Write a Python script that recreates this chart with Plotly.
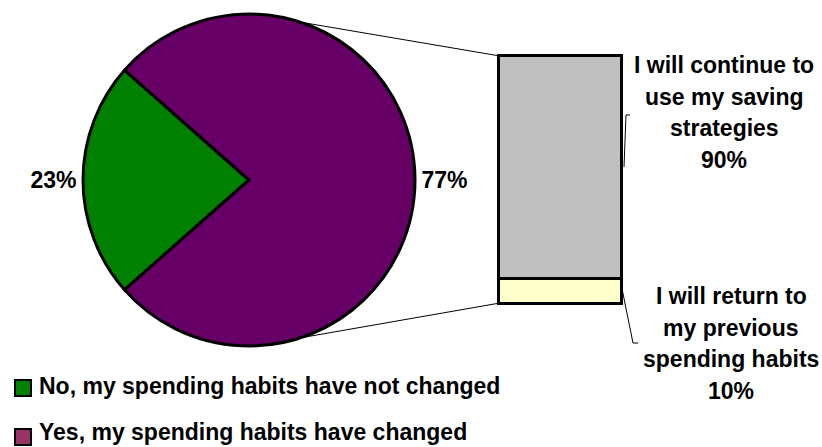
import math
import plotly.graph_objects as go

# ---- data -------------------------------------------------------------
habit_labels = ["No, my spending habits have not changed",
                "Yes, my spending habits have changed"]
habit_share = [23, 77]
habit_colors = ["#008000", "#660066"]
legend_swatch_colors = ["#008000", "#993366"]

plan_label_lines = [["I will continue to", "use my saving", "strategies"],
                    ["I will return to", "my previous", "spending habits"]]
plan_share = [90, 10]
plan_colors = ["#C0C0C0", "#FFFFCC"]

# ---- canvas helpers (pixel -> paper) ----------------------------------
W, H = 822, 447
def px(x):
    return x / W
def py(y):
    return 1 - y / H

FONT = dict(family="Liberation Sans, Arial, sans-serif", size=23, color="black")

# pie geometry
cx, cy, r = 249, 180, 166
# bar geometry (outline centre lines)
bar_left, bar_right = 498.5, 621.5
bar_top, bar_bottom = 55.5, 303.5
pad = 10
total = sum(plan_share)
unit = (bar_bottom - bar_top) / total
dom_l, dom_r = bar_left - pad, bar_right + pad
bar_width = (bar_right - bar_left) / (dom_r - dom_l)

fig = go.Figure()

# pie: first slice centred on 9 o'clock
fig.add_trace(go.Pie(
    labels=habit_labels,
    values=habit_share,
    sort=False,
    direction="clockwise",
    rotation=270 - habit_share[0] / sum(habit_share) * 360 / 2,
    marker=dict(colors=habit_colors, line=dict(color="black", width=3)),
    textinfo="percent",
    texttemplate="%{percent:.0%}",
    textposition="outside",
    textfont=dict(family=FONT["family"], size=23, color="black", weight="bold"),
    domain=dict(x=[px(cx - r), px(cx + r)], y=[py(cy + r), py(cy - r)]),
    showlegend=False,
    hoverinfo="label+percent",
))

# stacked bar: bottom segment first
for lines, val, col in [(plan_label_lines[1], plan_share[1], plan_colors[1]),
                        (plan_label_lines[0], plan_share[0], plan_colors[0])]:
    fig.add_trace(go.Bar(
        x=[0], y=[val], name=" ".join(lines),
        width=bar_width,
        marker=dict(color=col, line=dict(color="black", width=3)),
        showlegend=False, hoverinfo="name+y",
    ))

fig.update_layout(
    barmode="stack",
    width=W, height=H,
    margin=dict(l=0, r=0, t=0, b=0),
    paper_bgcolor="white", plot_bgcolor="rgba(0,0,0,0)",
    xaxis=dict(domain=[px(dom_l), px(dom_r)], range=[-0.5, 0.5], visible=False,
               fixedrange=True),
    yaxis=dict(domain=[py(bar_bottom + pad), py(bar_top - pad)],
               range=[-pad / unit, total + pad / unit], visible=False,
               fixedrange=True),
)

def bar_y(v):
    return bar_bottom - v * unit

# connector lines from the pie rim to the bar corners (kept under the pie)
shapes = []
for ang, corner_y in [(72, bar_y(total)), (-72, bar_y(0))]:
    a = math.radians(ang)
    x0, y0 = cx + r * math.cos(a), cy - r * math.sin(a)
    shapes.append(dict(type="line", xref="paper", yref="paper", layer="below",
                       x0=px(x0), y0=py(y0), x1=px(bar_left - 1.5), y1=py(corner_y),
                       line=dict(color="black", width=1)))

# leader lines for the bar labels
top_mid = bar_y(plan_share[1] + plan_share[0] / 2)
bot_mid = bar_y(plan_share[1] / 2)
def path(pts):
    return "M " + " L ".join(f"{px(x)},{py(y)}" for x, y in pts)
shapes.append(dict(type="path", xref="paper", yref="paper",
                   path=path([(630, 115), (626, 115), (624, top_mid)]),
                   line=dict(color="black", width=1)))
shapes.append(dict(type="path", xref="paper", yref="paper",
                   path=path([(bar_right + 1, bot_mid), (633, 343), (638, 343)]),
                   line=dict(color="black", width=1)))

# legend swatches
for i, col in enumerate(legend_swatch_colors):
    y0 = 380 + i * 49
    shapes.append(dict(type="rect", xref="paper", yref="paper",
                       x0=px(15), x1=px(31), y0=py(y0), y1=py(y0 + 16),
                       fillcolor=col, line=dict(color="black", width=2)))

annotations = []
# bar labels, one line at a time for Excel-like line spacing
line_gap = 31.7
for lines, val, (x, y_first) in zip(plan_label_lines, plan_share,
                                    [(724, 65), (731, 296)]):
    for k, ln in enumerate(lines + [f"{val}%"]):
        annotations.append(dict(
            xref="paper", yref="paper", x=px(x), y=py(y_first + k * line_gap),
            text=f"<b>{ln}</b>", showarrow=False,
            xanchor="center", yanchor="middle", align="center", font=FONT))
# legend text
for i, lab in enumerate(habit_labels):
    annotations.append(dict(
        xref="paper", yref="paper", x=px(37), y=py(386 + i * 46),
        text=f"<b>{lab}</b>", showarrow=False,
        xanchor="left", yanchor="middle", align="left", font=FONT))

fig.update_layout(shapes=shapes, annotations=annotations)

fig.write_html("out.html")
